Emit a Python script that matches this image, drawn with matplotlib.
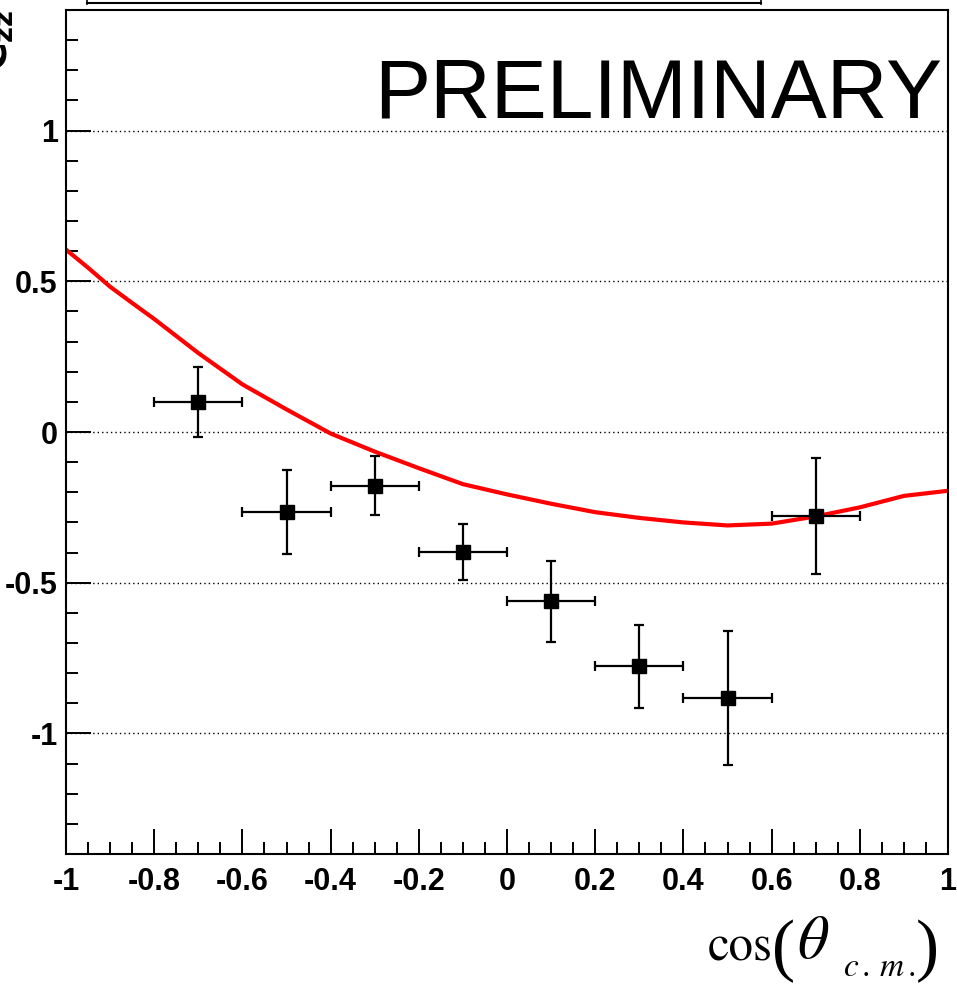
import numpy as np
import matplotlib
matplotlib.use('Agg')
import matplotlib.pyplot as plt
from matplotlib.ticker import MultipleLocator, FuncFormatter
from matplotlib.lines import Line2D

# measured points (cos theta_cm, C_zz)
x_pts = [-0.7, -0.5, -0.3, -0.1, 0.1, 0.3, 0.5, 0.7]
y_pts = [0.10, -0.265, -0.178, -0.398, -0.562, -0.777, -0.882, -0.279]
y_err = [0.116, 0.14, 0.097, 0.093, 0.135, 0.137, 0.222, 0.192]
x_err = [0.1] * 8

# theory curve
x_curve = [-1.0, -0.95, -0.9, -0.85, -0.8, -0.7, -0.6, -0.5, -0.4, -0.3, -0.2, -0.1,
           0.0, 0.1, 0.2, 0.3, 0.4, 0.5, 0.6, 0.7, 0.8, 0.9, 1.0]
y_curve = [0.605, 0.545, 0.482, 0.428, 0.375, 0.262, 0.158, 0.075, -0.005, -0.065, -0.12, -0.173,
           -0.207, -0.238, -0.266, -0.285, -0.300, -0.310, -0.304, -0.28, -0.25, -0.212, -0.195]

tick_font = ['Liberation Sans Narrow', 'Liberation Sans', 'DejaVu Sans']

fig = plt.figure(figsize=(9.57, 9.88), dpi=100)
ax = fig.add_axes([66/957, 1 - 854/988, (948 - 66)/957, (854 - 10)/988])

ax.plot(x_curve, y_curve, color='#ff0000', lw=3, zorder=2)
ax.errorbar(x_pts, y_pts, xerr=x_err, yerr=y_err, fmt='s', color='black',
            ms=10, elinewidth=1.6, capsize=3.5, capthick=1.6, zorder=3)

ax.set_xlim(-1, 1)
ax.set_ylim(-1.4, 1.4)
ax.xaxis.set_major_locator(MultipleLocator(0.2))
ax.xaxis.set_minor_locator(MultipleLocator(0.05))
ax.yaxis.set_major_locator(MultipleLocator(0.5))
ax.yaxis.set_minor_locator(MultipleLocator(0.1))

def fmt(v, pos):
    s = '%g' % round(v, 2)
    if s == '-0':
        s = '0'
    return s

ax.xaxis.set_major_formatter(FuncFormatter(fmt))
ax.yaxis.set_major_formatter(FuncFormatter(fmt))

ax.tick_params(which='both', direction='in', top=False, right=False, width=1.4, color='black')
ax.tick_params(which='major', length=18)
ax.tick_params(which='minor', length=8.5)
ax.tick_params(axis='x', which='major', pad=9)
ax.tick_params(axis='y', which='major', pad=6)
for lab in ax.get_xticklabels() + ax.get_yticklabels():
    lab.set_family(tick_font)
    lab.set_fontweight('bold')
    lab.set_fontsize(22)

for sp in ax.spines.values():
    sp.set_linewidth(1.5)

ax.yaxis.grid(True, which='major', color='black', linestyle=(0, (1, 2.2)), lw=1.0)
ax.set_axisbelow(True)

fig.text(942/957, 1 - 117/988, 'PRELIMINARY', family=['Liberation Sans', 'DejaVu Sans'],
         fontsize=60.5, ha='right', va='baseline', color='black')

# x axis title, built from pieces so the brackets can be tall
def px(x, y):
    return x / 957, 1 - y / 988

fig.text(*px(708, 960), 'cos', family='STIXGeneral', fontsize=35, ha='left', va='baseline')
fig.text(*px(772, 968), '(', family='Liberation Serif', fontsize=50, ha='left', va='baseline')
fig.text(*px(797, 958), r'$\theta$', math_fontfamily='stix', fontsize=44, ha='left', va='baseline')
fig.text(*px(843, 976), r'$c\,.\,m\,.$', math_fontfamily='stix', fontsize=24, ha='left', va='baseline')
fig.text(*px(916, 968), ')', family='Liberation Serif', fontsize=50, ha='left', va='baseline')

# y axis title, cut at the figure edge
fig.text(16/957, 1 - 10/988, r'$\mathbf{C_{zz}}$', math_fontfamily='dejavusans',
         fontsize=28, rotation=90, ha='right', va='top')

# title box, mostly outside the figure
fig.add_artist(Line2D([87/957, 87/957], [1.0, 1 - 4/988], color='black', lw=1.2))
fig.add_artist(Line2D([761/957, 761/957], [1.0, 1 - 4/988], color='black', lw=1.2))
fig.add_artist(Line2D([87/957, 761/957], [1 - 3.5/988, 1 - 3.5/988], color='black', lw=1.5))

fig.savefig('out.png', dpi=100)
